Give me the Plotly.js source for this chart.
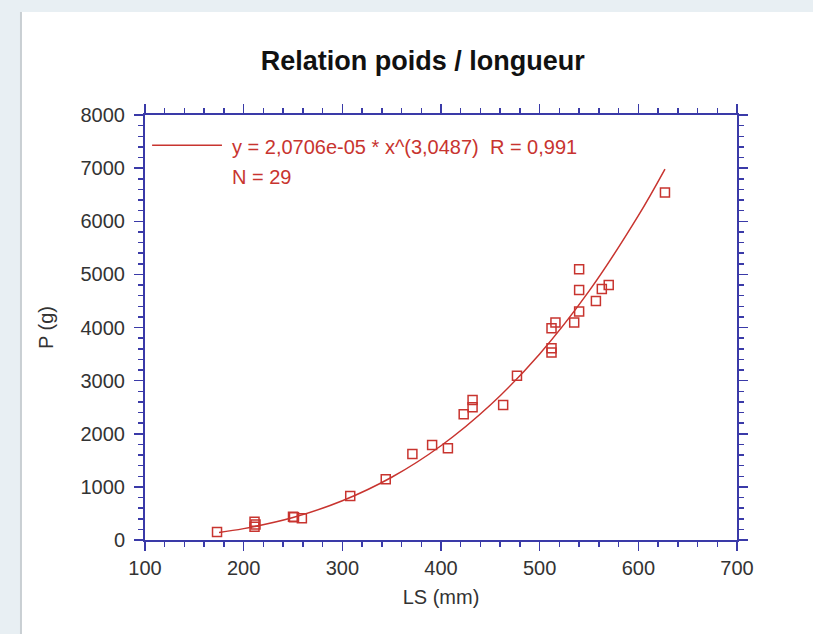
<!DOCTYPE html>
<html>
<head>
<meta charset="utf-8">
<script src="https://cdn.plot.ly/plotly-3.0.1.min.js"></script>
<style>html,body{margin:0;padding:0;background:#e8eff3;}#chart{width:813px;height:634px;}</style>
</head>
<body>
<div id="chart"></div>
<script>
// Observed points: LS (mm) and P (g)
const lengthMM = [173, 211, 211, 212, 250, 251, 259, 308, 344, 371, 391, 407, 423, 432, 432, 463, 477, 512, 516, 512, 512, 535, 540, 557, 627, 540, 540, 570, 563];
const weightG  = [150, 345, 250, 290, 439, 427, 409, 829, 1143, 1620, 1789, 1727, 2367, 2637, 2499, 2542, 3094, 3987, 4093, 3610, 3528, 4093, 4300, 4500, 6541, 5098, 4708, 4802, 4727];

// Fitted power curve as drawn
const fitX = [175, 200, 250, 300, 350, 400, 450, 500, 550, 600, 627];
const fitY = [143, 214, 423, 738, 1181, 1774, 2540, 3503, 4684, 6106, 6983];

const xTicks = [100, 200, 300, 400, 500, 600, 700];
const yTicks = [0, 1000, 2000, 3000, 4000, 5000, 6000, 7000, 8000];

const chartTitle = "Relation poids / longueur";
const xTitle = "LS (mm)";
const yTitle = "P (g)";
const fitLabel = "y = 2,0706e-05 * x^(3,0487)&nbsp;&nbsp;R = 0,991";
const nLabel = "N = 29";

const red = "#c8342f";
const axisBlue = "#3a3aa8";
const fontFam = "Liberation Sans, Arial, sans-serif";

const traces = [
  {x: fitX, y: fitY, type: "scatter", mode: "lines", line: {color: red, width: 1.5, shape: "spline"}, showlegend: false, hoverinfo: "skip"},
  {x: lengthMM, y: weightG, type: "scatter", mode: "markers",
   marker: {symbol: "square-open", size: 9, color: red, line: {color: red, width: 1.5}}, showlegend: false}
];

const axisCommon = {
  showline: true, linecolor: axisBlue, linewidth: 2, mirror: "ticks",
  ticks: "outside", ticklen: 9, tickwidth: 1.5, tickcolor: axisBlue,
  showgrid: false, zeroline: false,
  tickfont: {family: fontFam, size: 20, color: "#333"},
};

const layout = {
  width: 813, height: 634,
  paper_bgcolor: "#e8eff3", plot_bgcolor: "#ffffff",
  margin: {l: 145, r: 76, t: 115, b: 94},
  title: {text: "<b>" + chartTitle + "</b>", xref: "container", x: 0.52, xanchor: "center",
          yref: "container", y: 0.905, yanchor: "middle",
          font: {family: fontFam, size: 27, color: "#111"}},
  xaxis: Object.assign({}, axisCommon, {
    range: [100, 700], tickvals: xTicks, ticktext: xTicks.map(String),
    minor: {dtick: 20, tick0: 100, ticks: "outside", ticklen: 5, tickwidth: 1.5, tickcolor: axisBlue, showgrid: false},
    title: {text: xTitle, standoff: 12, font: {family: fontFam, size: 20, color: "#333"}}
  }),
  yaxis: Object.assign({}, axisCommon, {
    range: [0, 8000], tickvals: yTicks, ticktext: yTicks.map(String),
    ticklabelstandoff: 5,
    minor: {dtick: 200, tick0: 0, ticks: "outside", ticklen: 5, tickwidth: 1.5, tickcolor: axisBlue, showgrid: false},
    title: {text: yTitle, standoff: 22, font: {family: fontFam, size: 20, color: "#333"}}
  }),
  shapes: [
    {type: "rect", xref: "paper", yref: "paper", x0: -0.2078, x1: 1.2, y0: -0.3, y1: 1.2424,
     fillcolor: "#ffffff", line: {width: 0}, layer: "below"},
    {type: "line", xref: "paper", yref: "paper", x0: -0.2095, x1: -0.2095, y0: -0.3, y1: 1.2424,
     line: {color: "#c9cfd3", width: 2}, layer: "below"},
    {type: "line", xref: "paper", yref: "paper", x0: 0.012, x1: 0.13, y0: 0.929, y1: 0.929,
     line: {color: red, width: 1.5}}
  ],
  annotations: [
    {xref: "paper", yref: "paper", x: 0.143, y: 0.925, xanchor: "left", yanchor: "middle", showarrow: false,
     text: fitLabel, font: {family: fontFam, size: 20, color: red}},
    {xref: "paper", yref: "paper", x: 0.143, y: 0.855, xanchor: "left", yanchor: "middle", showarrow: false,
     text: nLabel, font: {family: fontFam, size: 20, color: red}}
  ]
};

Plotly.newPlot("chart", traces, layout, {displayModeBar: false, staticPlot: true});
</script>
</body>
</html>
